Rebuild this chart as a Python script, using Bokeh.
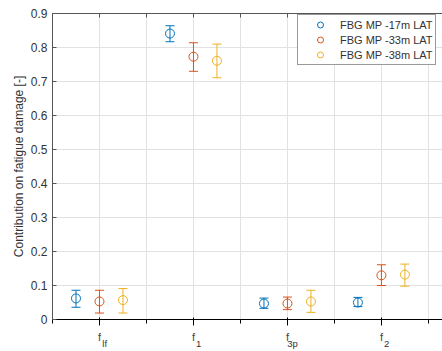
from bokeh.plotting import figure
from bokeh.models import (FixedTicker, LinearAxis, Legend, LegendItem, Range1d)
from bokeh.embed import file_html
from bokeh.resources import INLINE

# ---- data ----
positions = [1, 2, 3, 4]
tick_base = ["f", "f", "f", "f"]
tick_subs = ["lf", "1", "3p", "2"]
series_names = ["FBG MP -17m LAT", "FBG MP -33m LAT", "FBG MP -38m LAT"]
dodge = [-0.25, 0.0, 0.25]

means_17 = [0.062, 0.841, 0.047, 0.050]
lower_17 = [0.036, 0.817, 0.033, 0.038]
upper_17 = [0.086, 0.864, 0.063, 0.065]

means_33 = [0.053, 0.773, 0.047, 0.130]
lower_33 = [0.019, 0.730, 0.029, 0.100]
upper_33 = [0.086, 0.814, 0.066, 0.161]

means_38 = [0.057, 0.761, 0.053, 0.132]
lower_38 = [0.019, 0.711, 0.021, 0.098]
upper_38 = [0.091, 0.810, 0.086, 0.163]

y_ticks = [0, 0.1, 0.2, 0.3, 0.4, 0.5, 0.6, 0.7, 0.8, 0.9]
x_minor = [0.5, 1.5, 2.5, 3.5, 4.5]

colors = ["#0072BD", "#D95319", "#EDB120"]
FONT = "Liberation Sans"
TXT = "#333333"
AX = "#555555"
GRID = "#e2e2e2"

X0, X1 = 0.5, 4.65
SUB_SHIFT = 0.055  # subscript axis drawn slightly right of the "f"

p = figure(width=442, height=351, output_backend="svg", toolbar_location=None,
           x_range=Range1d(X0, X1), y_range=Range1d(0, 0.9),
           min_border_left=52, min_border_right=0, min_border_top=13,
           min_border_bottom=0)
p.extra_x_ranges = {"sub": Range1d(X0 - SUB_SHIFT, X1 - SUB_SHIFT)}
p.outline_line_color = None
p.background_fill_color = "white"
p.border_fill_color = "white"

# axes
p.xaxis.ticker = FixedTicker(ticks=positions, minor_ticks=x_minor)
p.xaxis.major_label_overrides = {pos: b for pos, b in zip(positions, tick_base)}
p.yaxis.ticker = FixedTicker(ticks=y_ticks)
p.yaxis.major_label_overrides = {0: "0"}
p.yaxis.axis_label = "Contribution on fatigue damage [-]"

top = LinearAxis(ticker=FixedTicker(ticks=positions, minor_ticks=x_minor))
top.major_label_overrides = {pos: "" for pos in positions}
top.major_label_standoff = 0
p.add_layout(top, "above")

sub_axis = LinearAxis(x_range_name="sub", ticker=FixedTicker(ticks=positions))
sub_axis.major_label_overrides = {pos: s for pos, s in zip(positions, tick_subs)}
sub_axis.axis_line_color = None
sub_axis.major_tick_line_color = None
sub_axis.minor_tick_line_color = None
sub_axis.major_tick_in = 0
sub_axis.major_tick_out = 0
sub_axis.minor_tick_in = 0
sub_axis.minor_tick_out = 0
sub_axis.major_label_standoff = -8
sub_axis.major_label_text_font = FONT
sub_axis.major_label_text_font_size = "9.5px"
sub_axis.major_label_text_color = TXT
p.add_layout(sub_axis, "below")

for ax in [p.xaxis[0], p.yaxis[0], top]:
    ax.axis_line_color = AX
    ax.major_tick_line_color = AX
    ax.minor_tick_line_color = AX
    ax.major_tick_in = 4
    ax.major_tick_out = 0
    ax.minor_tick_in = 4
    ax.minor_tick_out = 0
    ax.major_label_text_font = FONT
    ax.major_label_text_color = TXT
    ax.axis_label_text_font = FONT
    ax.axis_label_text_color = TXT
    ax.axis_label_text_font_style = "normal"

p.yaxis.minor_tick_line_color = None
p.xaxis[0].major_label_text_font_size = "12px"
p.xaxis[0].major_label_standoff = -7
p.yaxis.major_label_text_font_size = "12px"
p.yaxis.major_label_standoff = 5
p.yaxis.axis_label_text_font_size = "12px"
p.yaxis.axis_label_standoff = 2

# grid
p.xgrid.ticker = FixedTicker(ticks=positions, minor_ticks=x_minor)
p.xgrid.grid_line_color = GRID
p.xgrid.minor_grid_line_color = GRID
p.ygrid.grid_line_color = GRID

# error bars
all_series = [(means_17, lower_17, upper_17),
              (means_33, lower_33, upper_33),
              (means_38, lower_38, upper_38)]
items = []
for (m, lo, hi), name, c, d in zip(all_series, series_names, colors, dodge):
    xs = [x + d for x in positions]
    p.segment(x0=xs, y0=lo, x1=xs, y1=hi, line_color=c, line_width=1)
    p.scatter(x=xs, y=lo, marker="dash", size=9, line_color=c, line_width=1)
    p.scatter(x=xs, y=hi, marker="dash", size=9, line_color=c, line_width=1)
    r = p.scatter(x=xs, y=m, marker="circle", size=9, fill_color=None,
                  line_color=c, line_width=1)
    items.append(LegendItem(label=name, renderers=[r]))

legend = Legend(items=items, location=(245, 254))
legend.border_line_color = "#333333"
legend.border_line_width = 1
legend.background_fill_color = "white"
legend.background_fill_alpha = 1
legend.label_text_font = FONT
legend.label_text_font_size = "11px"
legend.label_text_color = TXT
legend.glyph_width = 40
legend.glyph_height = 15
legend.label_height = 15
legend.spacing = 0
legend.padding = 2
legend.margin = 0
legend.label_standoff = 0
p.add_layout(legend)

open("out.html", "w").write(file_html(p, INLINE))
